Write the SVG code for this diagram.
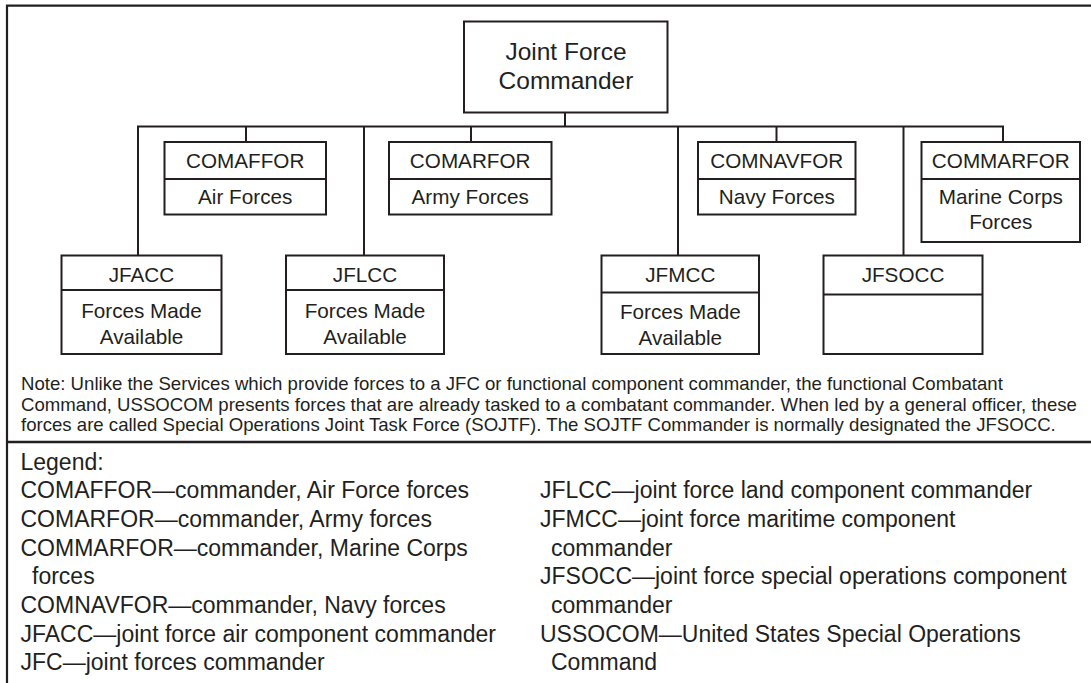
<svg xmlns="http://www.w3.org/2000/svg" width="1091" height="683" viewBox="0 0 1091 683">
  <style>
    .frame { fill: none; stroke: #231f20; stroke-width: 2.2; }
    .box { fill: #ffffff; stroke: #231f20; stroke-width: 2; }
    .div { fill: none; stroke: #231f20; stroke-width: 2; }
    .wire { fill: none; stroke: #231f20; stroke-width: 2; stroke-linejoin: miter; }
    text { font-family: "Liberation Sans", Arial, Helvetica, sans-serif; fill: #231f20; }
    .head { font-size: 24.5px; text-anchor: middle; }
    .bt { font-size: 20.7px; text-anchor: middle; }
    .note { font-size: 18.6px; }
    .leg { font-size: 23px; }
  </style>

  <!-- outer frame and separator above the legend -->
  <path class="frame" d="M7,683 V5.7 H1091"/>
  <path class="frame" d="M7,442 H1091" style="stroke-width:2.5"/>

  <!-- connectors -->
  <g id="connectors">
    <path class="wire" d="M565,112.5 V126.5"/>
    <path class="wire" d="M138,255.5 V126.5 H1003 V142"/>
    <path class="wire" d="M246,126.5 V142"/>
    <path class="wire" d="M364,126.5 V255.5"/>
    <path class="wire" d="M471,126.5 V142"/>
    <path class="wire" d="M678,126.5 V255.5"/>
    <path class="wire" d="M776.5,126.5 V142"/>
    <path class="wire" d="M903.5,126.5 V255.5"/>
  </g>

  <!-- top commander -->
  <g id="jfc">
    <rect class="box" x="464" y="21.5" width="203.5" height="91"/>
    <text class="head" x="566" y="60">Joint Force</text>
    <text class="head" x="566" y="88.5">Commander</text>
  </g>

  <!-- service component commanders -->
  <g id="comaffor">
    <rect class="box" x="164.5" y="142" width="161.5" height="72.5"/>
    <path class="div" d="M164.5,179 H326"/>
    <text class="bt" x="245.2" y="168">COMAFFOR</text>
    <text class="bt" x="245.2" y="203.5">Air Forces</text>
  </g>
  <g id="comarfor">
    <rect class="box" x="389" y="142" width="162.5" height="72.5"/>
    <path class="div" d="M389,179 H551.5"/>
    <text class="bt" x="470.2" y="168">COMARFOR</text>
    <text class="bt" x="470.2" y="203.5">Army Forces</text>
  </g>
  <g id="comnavfor">
    <rect class="box" x="698" y="142" width="157.5" height="72.5"/>
    <path class="div" d="M698,179 H855.5"/>
    <text class="bt" x="776.8" y="168">COMNAVFOR</text>
    <text class="bt" x="776.8" y="203.5">Navy Forces</text>
  </g>
  <g id="commarfor">
    <rect class="box" x="921.5" y="142" width="158.5" height="100"/>
    <path class="div" d="M921.5,179 H1080"/>
    <text class="bt" x="1000.8" y="168">COMMARFOR</text>
    <text class="bt" x="1000.8" y="203.5">Marine Corps</text>
    <text class="bt" x="1000.8" y="228.5">Forces</text>
  </g>

  <!-- functional component commanders -->
  <g id="jfacc">
    <rect class="box" x="61.5" y="255.5" width="160" height="98.5"/>
    <path class="div" d="M61.5,290 H221.5"/>
    <text class="bt" x="141.5" y="282">JFACC</text>
    <text class="bt" x="141.5" y="317.5">Forces Made</text>
    <text class="bt" x="141.5" y="343.5">Available</text>
  </g>
  <g id="jflcc">
    <rect class="box" x="286" y="255.5" width="158" height="98.5"/>
    <path class="div" d="M286,290 H444"/>
    <text class="bt" x="365" y="282">JFLCC</text>
    <text class="bt" x="365" y="317.5">Forces Made</text>
    <text class="bt" x="365" y="343.5">Available</text>
  </g>
  <g id="jfmcc">
    <rect class="box" x="601.5" y="255.5" width="157.5" height="98.5"/>
    <path class="div" d="M601.5,292.5 H759"/>
    <text class="bt" x="680.3" y="282">JFMCC</text>
    <text class="bt" x="680.3" y="319">Forces Made</text>
    <text class="bt" x="680.3" y="345">Available</text>
  </g>
  <g id="jfsocc">
    <rect class="box" x="823.5" y="255.5" width="159" height="98.5"/>
    <path class="div" d="M823.5,294.5 H982.5"/>
    <text class="bt" x="903" y="282">JFSOCC</text>
  </g>

  <!-- note -->
  <g id="note">
    <text class="note" x="21" y="390">Note: Unlike the Services which provide forces to a JFC or functional component commander, the functional Combatant</text>
    <text class="note" x="21" y="410.5">Command, USSOCOM presents forces that are already tasked to a combatant commander. When led by a general officer, these</text>
    <text class="note" x="21" y="431">forces are called Special Operations Joint Task Force (SOJTF). The SOJTF Commander is normally designated the JFSOCC.</text>
  </g>

  <!-- legend -->
  <g id="legend">
    <text class="leg" x="20.5" y="469.5">Legend:</text>
    <text class="leg" x="20.5" y="498.2">COMAFFOR—commander, Air Force forces</text>
    <text class="leg" x="20.5" y="526.9">COMARFOR—commander, Army forces</text>
    <text class="leg" x="20.5" y="555.6">COMMARFOR—commander, Marine Corps</text>
    <text class="leg" x="32" y="584.3">forces</text>
    <text class="leg" x="20.5" y="613">COMNAVFOR—commander, Navy forces</text>
    <text class="leg" x="20.5" y="641.7">JFACC—joint force air component commander</text>
    <text class="leg" x="20.5" y="670.4">JFC—joint forces commander</text>

    <text class="leg" x="540" y="498.2">JFLCC—joint force land component commander</text>
    <text class="leg" x="540" y="526.9">JFMCC—joint force maritime component</text>
    <text class="leg" x="551" y="555.6">commander</text>
    <text class="leg" x="540" y="584.3">JFSOCC—joint force special operations component</text>
    <text class="leg" x="551" y="613">commander</text>
    <text class="leg" x="540" y="641.7">USSOCOM—United States Special Operations</text>
    <text class="leg" x="551" y="670.4">Command</text>
  </g>
</svg>
